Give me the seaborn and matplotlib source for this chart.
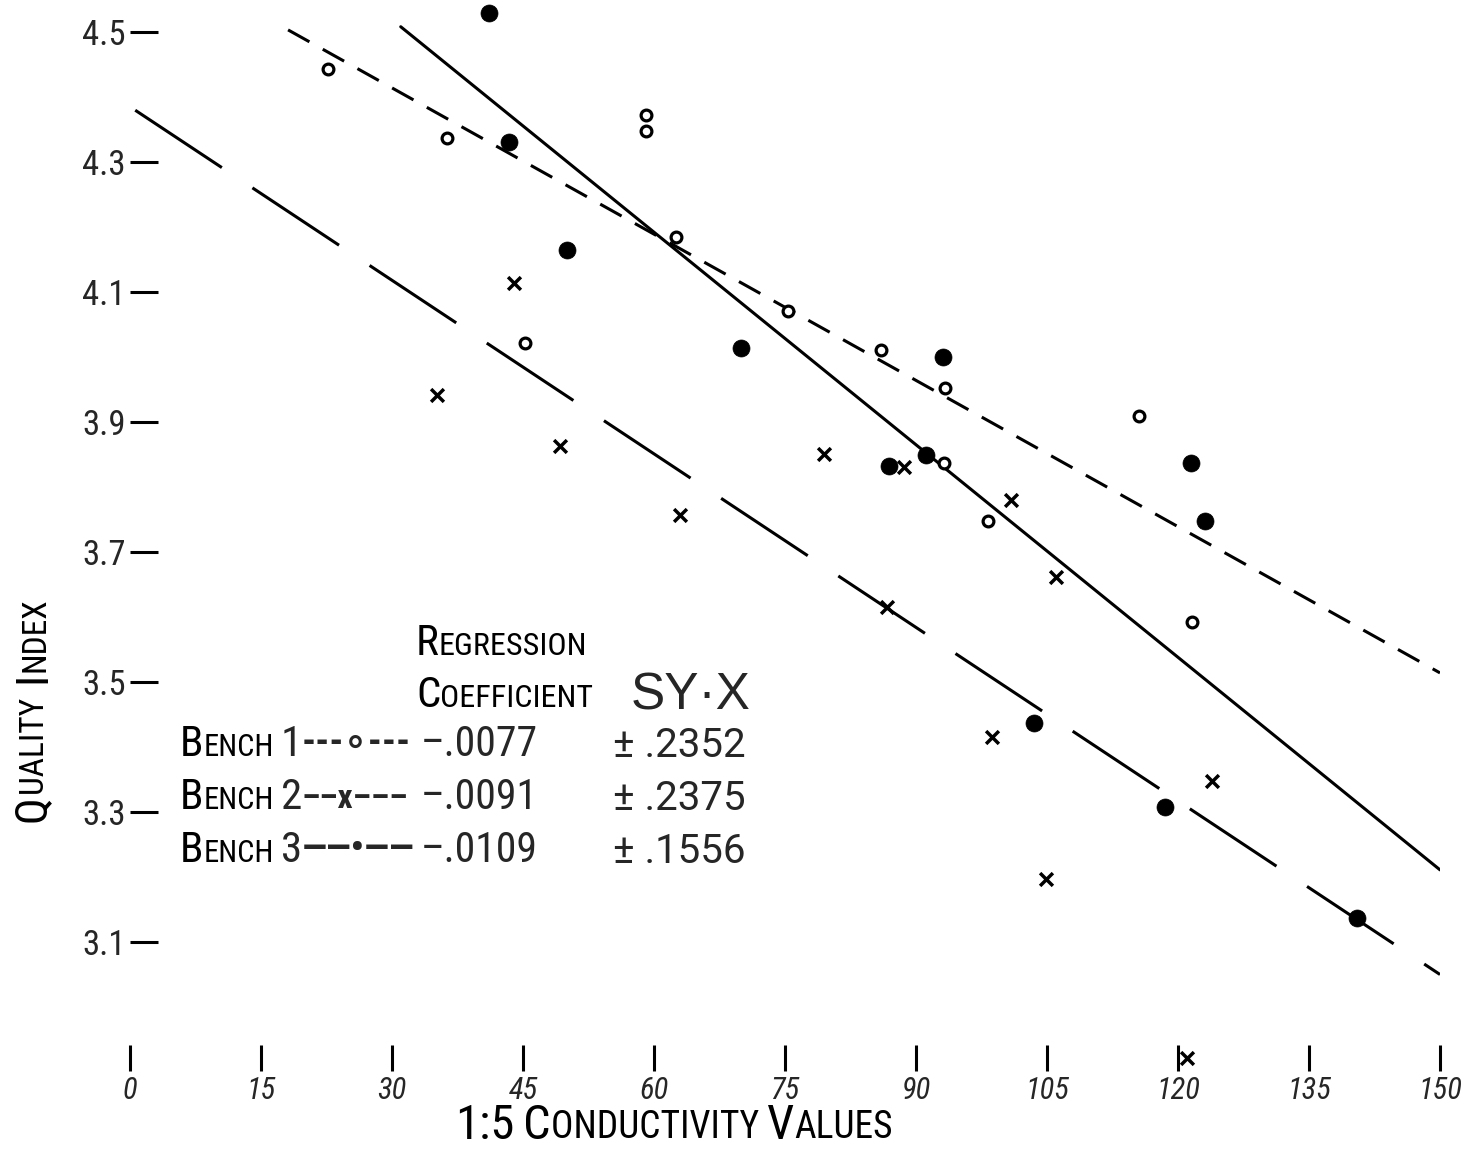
import numpy as np
import pandas as pd
import matplotlib
matplotlib.use("Agg")
import matplotlib.pyplot as plt
import seaborn as sns
from matplotlib import font_manager

# ---------------- data ----------------
bench1_x = [22.7, 36.3, 45.2, 59.1, 59.1, 62.5, 75.3, 86.0, 93.3, 93.2, 98.2, 115.5, 121.6]
bench1_y = [4.443, 4.337, 4.022, 4.372, 4.348, 4.185, 4.071, 4.011, 3.952, 3.837, 3.748, 3.909, 3.592]

bench2_x = [44.0, 35.2, 49.2, 63.0, 79.5, 88.6, 100.9, 106.0, 86.7, 98.7, 123.9, 104.9, 121.0]
bench2_y = [4.114, 3.942, 3.863, 3.757, 3.851, 3.831, 3.780, 3.662, 3.615, 3.415, 3.348, 3.197, 2.922]

bench3_x = [41.1, 43.4, 50.0, 70.0, 93.1, 86.9, 91.1, 121.5, 123.1, 103.5, 118.5, 140.5]
bench3_y = [4.529, 4.331, 4.165, 4.014, 4.000, 3.832, 3.849, 3.837, 3.748, 3.437, 3.308, 3.137]

bench_words = ["Bench", "Bench", "Bench"]
bench_numbers = ["1", "2", "3"]
# regression lines as drawn on the chart
line_slopes = [-0.0075, -0.0089, -0.0109]
line_intercepts = [4.639, 4.385, 4.846]
line_x_start = [18.1, 0.6, 31.0]
line_x_end = [150.0, 150.0, 150.0]
coef_labels = ["\u2013.0077", "\u2013.0091", "\u2013.0109"]
syx_labels = ["\u00b1 .2352", "\u00b1 .2375", "\u00b1 .1556"]
legend_patterns = ["---\u2218---", "\u2013\u2013x\u2013\u2013\u2013", "\u2014\u2014\u2022\u2014\u2014"]

x_ticks = [0, 15, 30, 45, 60, 75, 90, 105, 120, 135, 150]
y_ticks = [3.1, 3.3, 3.5, 3.7, 3.9, 4.1, 4.3, 4.5]
y_tick_labels = ["3.1", "3.3", "3.5", "3.7", "3.9", "4.1", "4.3", "4.5"]

# ---------------- style ----------------
sns.set_theme(style="white")
avail = {f.name for f in font_manager.fontManager.ttflist}
FONT = "DejaVu Sans"
for cand in ["Roboto Condensed", "Liberation Sans Narrow", "Liberation Sans"]:
    if cand in avail:
        FONT = cand
        break
WIDE = "Roboto" if "Roboto" in avail else "DejaVu Sans"
WIDER = "Liberation Sans" if "Liberation Sans" in avail else "DejaVu Sans"
plt.rcParams["font.family"] = [FONT, "DejaVu Sans"]

W, H = 1478, 1153
fig = plt.figure(figsize=(W / 100, H / 100), dpi=100)
fig.patch.set_facecolor("white")
ax = fig.add_axes([130 / W, (H - 1045) / H, 1310 / W, 1045 / H])
ax.set_facecolor("white")

# regression lines
dash_styles = [(0, (8, 5)), (0, (34, 12)), "-"]
for i in range(3):
    xs = np.array([line_x_start[i], line_x_end[i]])
    ys = line_intercepts[i] + line_slopes[i] * xs
    dfl = pd.DataFrame({"x": xs, "y": ys})
    sns.lineplot(data=dfl, x="x", y="y", ax=ax, color="black", lw=2.2,
                 linestyle=dash_styles[i], estimator=None, sort=False)

# points
df1 = pd.DataFrame({"x": bench1_x, "y": bench1_y})
df2 = pd.DataFrame({"x": bench2_x, "y": bench2_y})
df3 = pd.DataFrame({"x": bench3_x, "y": bench3_y})
sns.scatterplot(data=df1, x="x", y="y", ax=ax, marker="o", s=60, color="white",
                edgecolor="black", linewidth=2.3, zorder=5, clip_on=False)
sns.scatterplot(data=df2, x="x", y="y", ax=ax, marker="x", s=85, color="black",
                linewidth=2.5, zorder=5, clip_on=False)
sns.scatterplot(data=df3, x="x", y="y", ax=ax, marker="o", s=150, color="black",
                edgecolor="black", linewidth=0.5, zorder=5, clip_on=False)

ax.set_xlim(0, 150)
ax.set_ylim(4.5 - 1013 / 650, 4.5 + 32 / 650)
for s in ax.spines.values():
    s.set_visible(False)
ax.set_xticks(x_ticks)
ax.set_xticklabels([str(t) for t in x_ticks], fontsize=22, style="italic")
ax.set_yticks(y_ticks)
ax.set_yticklabels(y_tick_labels, fontsize=25)
ax.tick_params(axis="y", direction="in", length=20, width=2.2, pad=3, color="black", left=True)
ax.tick_params(axis="x", direction="out", length=19, width=2.2, pad=3, color="black", bottom=True)
ax.set_xlabel("")
ax.set_ylabel("")
ax.grid(False)


# ---------------- small-caps helper ----------------
DESC = 0.236


def small_caps(xpx, ypx, text, big, small, rotation=0):
    runs = []
    for ch in text:
        sz = big if (ch.isupper() or ch.isdigit() or ch in ":") else small
        c = ch.upper()
        if runs and runs[-1][1] == sz:
            runs[-1][0] += c
        else:
            runs.append([c, sz])
    prev = None
    prev_sz = None
    for txt, sz in runs:
        if prev is None:
            if rotation == 0:
                prev = fig.text(xpx / W, 1 - ypx / H, txt, fontsize=sz, ha="left", va="bottom",
                                color="black")
            else:
                prev = fig.text(xpx / W, 1 - ypx / H, txt, fontsize=sz, ha="right", va="bottom",
                                rotation=90, color="black")
        else:
            d = DESC * (prev_sz - sz)
            if rotation == 0:
                prev = ax.annotate(txt, xy=(1, 0), xycoords=prev, xytext=(0, d),
                                   textcoords="offset points", fontsize=sz,
                                   ha="left", va="bottom", color="black", annotation_clip=False)
            else:
                prev = ax.annotate(txt, xy=(1, 1), xycoords=prev, xytext=(-d, 0),
                                   textcoords="offset points", fontsize=sz, rotation=90,
                                   ha="right", va="bottom", color="black", annotation_clip=False)
        prev_sz = sz
    return prev


# axis titles
small_caps(455, 1149, "1:5 Conductivity Values", 35, 27)
small_caps(54, 822, "Quality  Index", 32, 24, rotation=90)

# legend block
small_caps(416, 664, "Regression", 31, 23)
small_caps(416, 716, "Coefficient", 31, 23)
fig.text(631 / W, 1 - 720 / H, "SY\u00b7X", fontsize=37, ha="left", va="bottom",
         family=[WIDER, "DejaVu Sans"])

row_base = [765, 818, 871]
pattern_sizes = [28, 24, 27]
for i in range(3):
    small_caps(180, row_base[i], bench_words[i], 31, 22)
    fig.text(281 / W, 1 - row_base[i] / H, bench_numbers[i], fontsize=31, ha="left", va="bottom")
    fig.text(302 / W, 1 - (row_base[i] - 3) / H, legend_patterns[i], fontsize=pattern_sizes[i],
             ha="left", va="bottom", fontweight="bold")
    fig.text(421 / W, 1 - row_base[i] / H, coef_labels[i], fontsize=30, ha="left", va="bottom")
    fig.text(613 / W, 1 - row_base[i] / H, syx_labels[i], fontsize=29, ha="left", va="bottom",
             family=[WIDE, "DejaVu Sans"])

fig.savefig("out.png", dpi=100, facecolor="white")
